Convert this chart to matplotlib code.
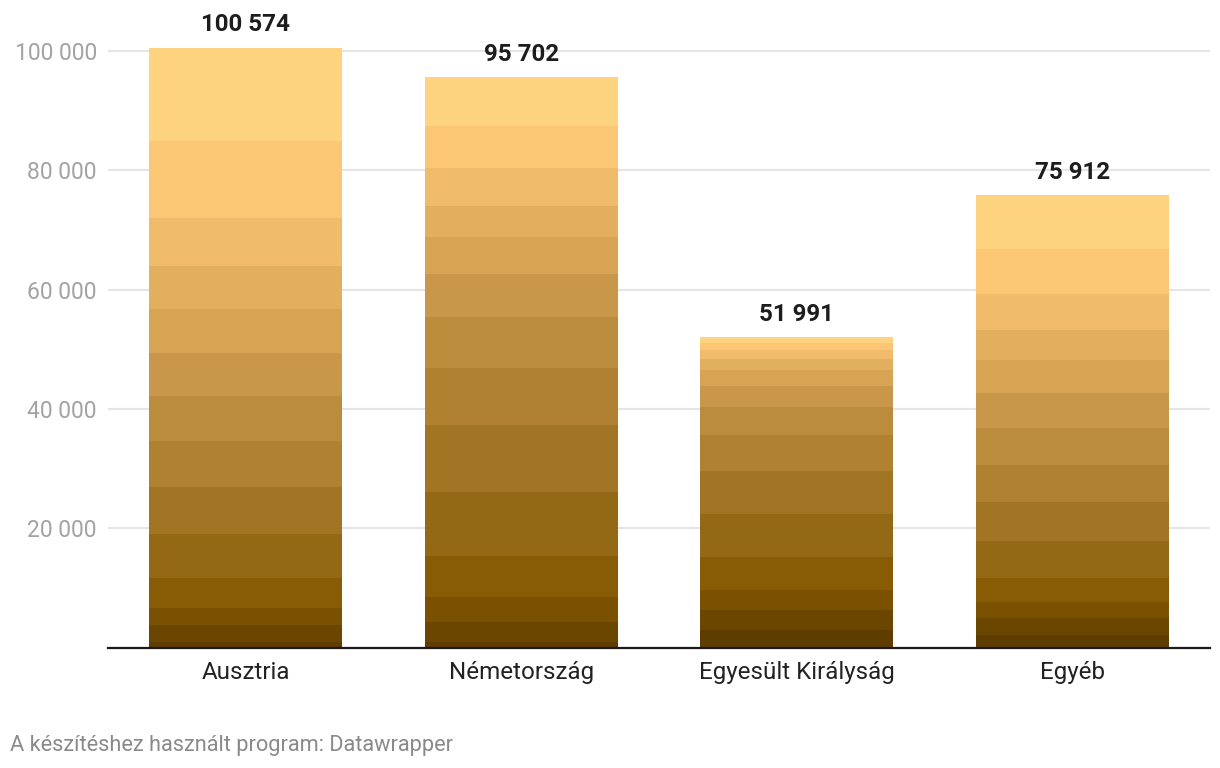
import matplotlib
matplotlib.use("Agg")
import matplotlib.pyplot as plt
import numpy as np

plt.rcParams['font.family'] = ['Roboto', 'DejaVu Sans']

categories = ["Ausztria", "Németország", "Egyesült Királyság", "Egyéb"]
totals = [100574, 95702, 51991, 75912]

# stacked segments, bottom to top
ausztria = [920, 2850, 2850, 5020, 7370, 7870, 7710, 7540, 7200, 7370, 7200, 8040, 12900, 15734]
nemetorszag = [920, 3350, 4190, 6870, 10720, 11220, 9550, 8540, 7200, 6200, 5190, 6370, 7030, 8352]
egyesult_kiralysag = [2930, 3350, 3350, 5530, 7200, 7200, 6030, 4690, 3520, 2680, 1840, 1510, 1230, 931]
egyeb = [2090, 2850, 2680, 4020, 6200, 6530, 6200, 6200, 5860, 5530, 5020, 6030, 7540, 9162]

yticks = [20000, 40000, 60000, 80000, 100000]

colors = ['#5f3c00', '#6b4600', '#795100', '#875c05', '#946915', '#a17523', '#b08130',
          '#bc8c3d', '#c9974a', '#d6a453', '#e2af5e', '#f0bb6a', '#fcc775', '#fdd37f']

segments = np.array([ausztria, nemetorszag, egyesult_kiralysag, egyeb])

fig = plt.figure(figsize=(12.2, 7.68), dpi=100)
ax = fig.add_axes([108 / 1220, 1 - 647.5 / 768, 1102 / 1220, (647.5 - 21.2) / 768])

x = np.arange(len(categories))
bottom = np.zeros(len(categories))
for i in range(segments.shape[1]):
    ax.bar(x, segments[:, i], bottom=bottom, width=0.70, color=colors[i], linewidth=0, zorder=2)
    bottom += segments[:, i]

for xi, t in zip(x, totals):
    ax.annotate(f"{t:,}".replace(",", " "), (xi, t), xytext=(0, 8), textcoords='offset points',
                ha='center', va='bottom', fontsize=17.4, fontweight='bold', color='#1d1d1d')

ax.set_xlim(-0.5, 3.5)
ax.set_ylim(0, 105000)
ax.set_yticks(yticks)
ax.set_yticklabels([f"{v:,}".replace(",", " ") for v in yticks])
ax.yaxis.grid(True, color='#e5e5e5', linewidth=1.5, zorder=0)
ax.tick_params(axis='y', length=0, pad=8, labelsize=16.5, labelcolor='#a3a3a3')
ax.set_xticks(x)
ax.set_xticklabels(categories)
ax.tick_params(axis='x', length=0, pad=10, labelsize=17.4, labelcolor='#222222')
for s in ['top', 'right', 'left']:
    ax.spines[s].set_visible(False)
ax.spines['bottom'].set_color('#1a1a1a')
ax.spines['bottom'].set_linewidth(1.6)
ax.spines['bottom'].set_zorder(3)
ax.set_axisbelow(True)

fig.text(10 / 1220, 1 - 745 / 768, "A készítéshez használt program: Datawrapper",
         fontsize=15.7, color='#8a8a8a', ha='left', va='center')

fig.savefig("out.png", dpi=100)
